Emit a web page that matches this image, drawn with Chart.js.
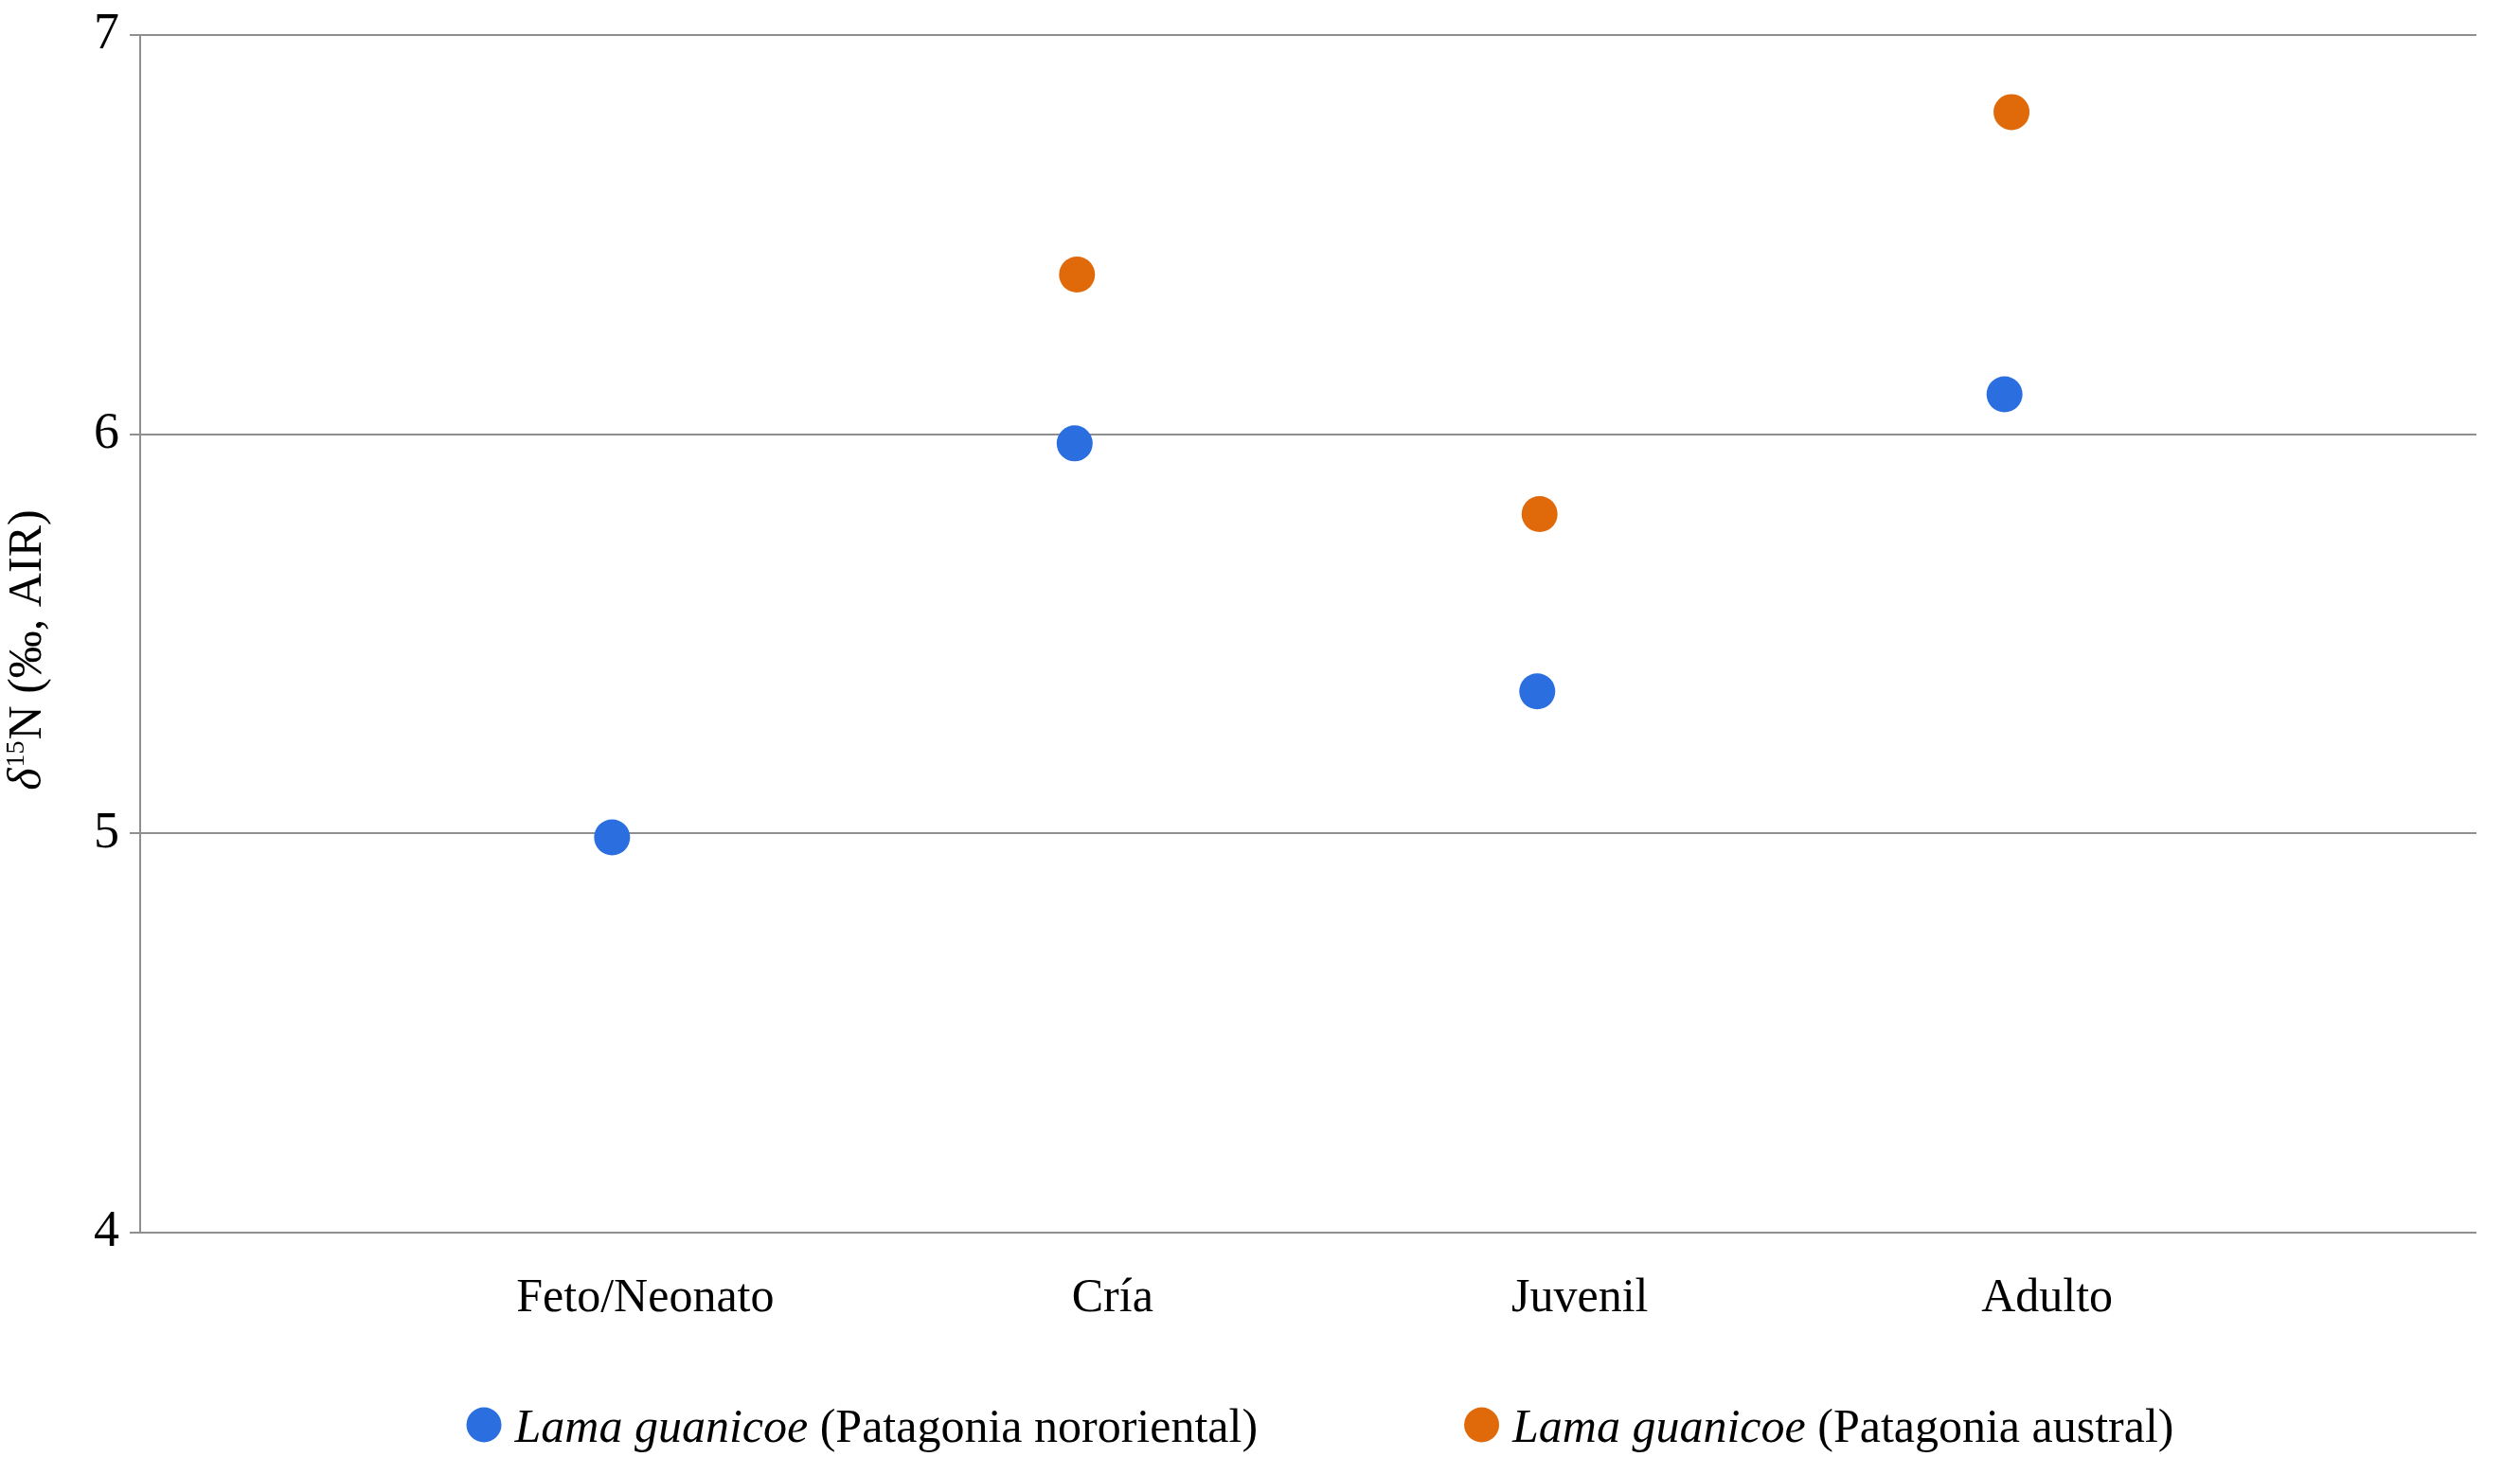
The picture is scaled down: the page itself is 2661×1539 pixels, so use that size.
<!DOCTYPE html>
<html>
<head>
<meta charset="utf-8">
<script src="https://cdn.jsdelivr.net/npm/chart.js@4.4.1/dist/chart.umd.min.js"></script>
<style>
  html, body { margin: 0; padding: 0; background: #ffffff; }
  #wrap { width: 2661px; height: 1539px; position: relative; }
</style>
</head>
<body>
<div id="wrap"><canvas id="c" width="2661" height="1539"></canvas></div>
<script>
// ---- data ----
const categories = ['Feto/Neonato', 'Cría', 'Juvenil', 'Adulto'];
const categoryPositions = [1, 2, 3, 4];
const yTicks = [4, 5, 6, 7];

const norX = [1.01, 2.0, 2.99, 3.99];
const norY = [4.99, 5.977, 5.356, 6.10];

const ausX = [2.005, 2.995, 4.005];
const ausY = [6.40, 5.80, 6.807];

const seriesSpecies = ['Lama guanicoe', 'Lama guanicoe'];
const seriesRegion = ['(Patagonia nororiental)', '(Patagonia austral)'];
const yTitleParts = ['δ', '15', 'N (‰, AIR)'];

const BLUE = '#2a6ee0';
const ORANGE = '#e06a0a';
const GRID = '#8f8f8f';
const FONT = "'Liberation Serif', 'Times New Roman', serif";

function toPoints(xs, ys) { return xs.map((x, i) => ({ x: x, y: ys[i] })); }

const customText = {
  id: 'customText',
  afterDraw(chart) {
    const ctx = chart.ctx;
    const area = chart.chartArea;
    ctx.save();
    // y-axis title
    const cy = (area.top + area.bottom) / 2 + 17;
    ctx.translate(30, cy);
    ctx.rotate(-Math.PI / 2);
    ctx.fillStyle = '#000';
    ctx.textBaseline = 'middle';
    ctx.textAlign = 'left';
    const fMain = "50px " + FONT;
    const fItal = "italic 50px " + FONT;
    const fSup = "28px " + FONT;
    ctx.font = fItal; const w1 = ctx.measureText(yTitleParts[0]).width;
    ctx.font = fSup; const w2 = ctx.measureText(yTitleParts[1]).width;
    ctx.font = fMain; const w3 = ctx.measureText(yTitleParts[2]).width;
    let x = -(w1 + w2 + 2 + w3) / 2;
    ctx.font = fItal; ctx.fillText(yTitleParts[0], x, 0); x += w1 + 1;
    ctx.font = fSup; ctx.fillText(yTitleParts[1], x, -12); x += w2 + 1;
    ctx.font = fMain; ctx.fillText(yTitleParts[2], x, 0);
    ctx.restore();

    // legend
    ctx.save();
    const colors = [BLUE, ORANGE];
    const r = 18.5, gapMarker = 14, gapItems = 218;
    const items = [];
    let total = 0;
    for (let i = 0; i < 2; i++) {
      ctx.font = "italic 50px " + FONT;
      const a = ctx.measureText(seriesSpecies[i] + ' ').width;
      ctx.font = "50px " + FONT;
      const b = ctx.measureText(seriesRegion[i]).width;
      const w = 2 * r + gapMarker + a + b;
      items.push({ a, b, w });
      total += w;
    }
    total += gapItems;
    let lx = 1394 - total / 2;
    const ly = 1510;
    ctx.textBaseline = 'middle';
    ctx.textAlign = 'left';
    for (let i = 0; i < 2; i++) {
      ctx.fillStyle = colors[i];
      ctx.beginPath();
      ctx.arc(lx + r, ly - 5, r, 0, Math.PI * 2);
      ctx.fill();
      let tx = lx + 2 * r + gapMarker;
      ctx.fillStyle = '#000';
      ctx.font = "italic 50px " + FONT;
      ctx.fillText(seriesSpecies[i] + ' ', tx, ly);
      tx += items[i].a;
      ctx.font = "50px " + FONT;
      ctx.fillText(seriesRegion[i], tx, ly);
      lx += items[i].w + gapItems;
    }
    ctx.restore();
  }
};

new Chart(document.getElementById('c'), {
  type: 'scatter',
  data: {
    datasets: [
      { label: seriesSpecies[0] + ' ' + seriesRegion[0], data: toPoints(norX, norY),
        backgroundColor: BLUE, borderColor: BLUE, pointRadius: 19, pointHoverRadius: 19, borderWidth: 0 },
      { label: seriesSpecies[1] + ' ' + seriesRegion[1], data: toPoints(ausX, ausY),
        backgroundColor: ORANGE, borderColor: ORANGE, pointRadius: 19, pointHoverRadius: 19, borderWidth: 0 }
    ]
  },
  options: {
    responsive: false,
    animation: false,
    devicePixelRatio: 1,
    layout: { padding: { left: 0, right: 46, top: 37, bottom: 0 } },
    plugins: { legend: { display: false }, tooltip: { enabled: false } },
    scales: {
      x: {
        type: 'linear', min: 0, max: 5,
        afterBuildTicks(scale) { scale.ticks = categoryPositions.map(v => ({ value: v })); },
        afterFit(scale) { scale.height = 237; },
        ticks: {
          callback(value) { const i = categoryPositions.indexOf(value); return i >= 0 ? categories[i] : ''; },
          font: { family: FONT, size: 50 }, color: '#000', padding: 40, labelOffset: 40,
          maxRotation: 0, autoSkip: false
        },
        grid: { display: false, drawTicks: false },
        border: { display: false }
      },
      y: {
        min: 4, max: 7,
        afterBuildTicks(scale) { scale.ticks = yTicks.map(v => ({ value: v })); },
        afterFit(scale) { scale.width = 148; scale.paddingTop = 0; scale.paddingBottom = 0; },
        ticks: { font: { family: FONT, size: 54, lineHeight: 1 }, color: '#000', padding: 11 },
        grid: { color: GRID, lineWidth: 2, tickLength: 11, tickColor: GRID },
        border: { display: true, color: GRID, width: 2 }
      }
    }
  },
  plugins: [customText]
});
</script>
</body>
</html>
